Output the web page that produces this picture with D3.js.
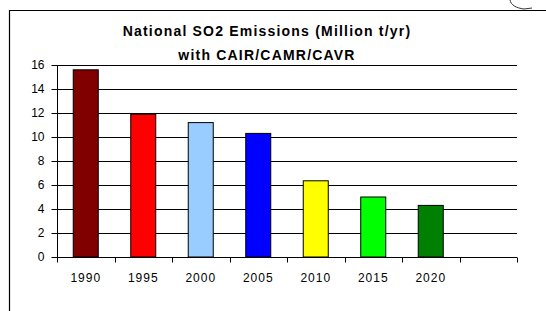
<!DOCTYPE html>
<html>
<head>
<meta charset="utf-8">
<title>National SO2 Emissions</title>
<script src="https://d3js.org/d3.v7.min.js"></script>
<style>
body { margin: 0; background: #fff; font-family: Arial, "Liberation Sans", sans-serif; }
.grid line { stroke: #000; stroke-width: 1; }
.axis text { font-size: 12px; fill: #000; }
.axis path, .axis line { stroke: #000; }
</style>
</head>
<body>
<script>
// data
var years = ["1990", "1995", "2000", "2005", "2010", "2015", "2020", ""];
var emissions = [15.6, 11.9, 11.2, 10.3, 6.35, 5.0, 4.3];
var barColors = ["#800000", "#ff0000", "#99ccff", "#0000ff", "#ffff00", "#00ff00", "#008000"];
var yTicks = [0, 2, 4, 6, 8, 10, 12, 14, 16];
var titleLines = ["National SO2 Emissions (Million t/yr)", "with CAIR/CAMR/CAVR"];

var w = 546, h = 311;
var svg = d3.select("body").append("svg")
	.attr("width", w)
	.attr("height", h);

// outer frame (left + top edges only visible)
svg.append("path")
	.attr("d", "M9.5,311 L9.5,10.5 L546,10.5")
	.attr("fill", "none")
	.attr("stroke", "#000")
	.attr("stroke-width", 1.2);
svg.append("path")
	.attr("d", "M510,0 C511,5 516,8 524,9 L532,8")
	.attr("fill", "none")
	.attr("stroke", "#333")
	.attr("stroke-width", 1);

var plotL = 57, plotR = 517, plotT = 65, plotB = 257;

var x = d3.scaleBand()
	.domain(years.map(function(d, i){ return i; }))
	.range([plotL, plotR])
	.paddingInner(0.565)
	.paddingOuter(0.2825);

var y = d3.scaleLinear()
	.domain([0, 16])
	.range([plotB, plotT]);

// gridlines
svg.append("g")
	.attr("class", "grid")
	.selectAll("line")
	.data(yTicks.slice(1))
	.enter()
	.append("line")
	.attr("x1", plotL)
	.attr("x2", plotR)
	.attr("y1", function(d){ return Math.round(y(d)) + 0.5; })
	.attr("y2", function(d){ return Math.round(y(d)) + 0.5; });

// bars
svg.append("g")
	.selectAll("rect")
	.data(emissions)
	.enter()
	.append("rect")
	.attr("x", function(d, i){ return x(i); })
	.attr("width", x.bandwidth())
	.attr("y", function(d){ return y(d); })
	.attr("height", function(d){ return y(0) - y(d); })
	.attr("fill", function(d, i){ return barColors[i]; })
	.attr("stroke", "#000")
	.attr("stroke-width", 1);

// y axis
var yAxis = svg.append("g")
	.attr("class", "axis")
	.attr("transform", "translate(" + (plotL + 0.5) + ",0)")
	.call(d3.axisLeft(y).tickValues(yTicks).tickSize(6).tickPadding(7).tickFormat(d3.format("d")));
yAxis.select(".domain").attr("d", "M0," + plotT + "V" + plotB);

// x axis with tick marks between categories
var slot = (plotR - plotL) / years.length;
var xAxis = svg.append("g")
	.attr("class", "axis")
	.attr("transform", "translate(0," + (plotB + 0.5) + ")");
xAxis.append("line")
	.attr("x1", plotL).attr("x2", plotR)
	.attr("stroke", "#000");
xAxis.selectAll("line.tick")
	.data(d3.range(years.length + 1))
	.enter()
	.append("line")
	.attr("class", "tick")
	.attr("x1", function(d){ return Math.round(plotL + d * slot) + 0.5; })
	.attr("x2", function(d){ return Math.round(plotL + d * slot) + 0.5; })
	.attr("y1", 0)
	.attr("y2", 5)
	.attr("stroke", "#000");
xAxis.selectAll("text")
	.data(years)
	.enter()
	.append("text")
	.attr("x", function(d, i){ return x(i) + x.bandwidth() / 2; })
	.attr("y", 24)
	.attr("text-anchor", "middle")
	.attr("font-size", "12.5px")
	.attr("letter-spacing", "1px")
	.text(function(d){ return d; });

// title
svg.append("g")
	.selectAll("text")
	.data(titleLines)
	.enter()
	.append("text")
	.attr("x", 267)
	.attr("y", function(d, i){ return 36 + i * 24; })
	.attr("text-anchor", "middle")
	.attr("font-size", "14px")
	.attr("font-weight", "bold")
	.attr("letter-spacing", "1.2px")
	.text(function(d){ return d; });
</script>
</body>
</html>
